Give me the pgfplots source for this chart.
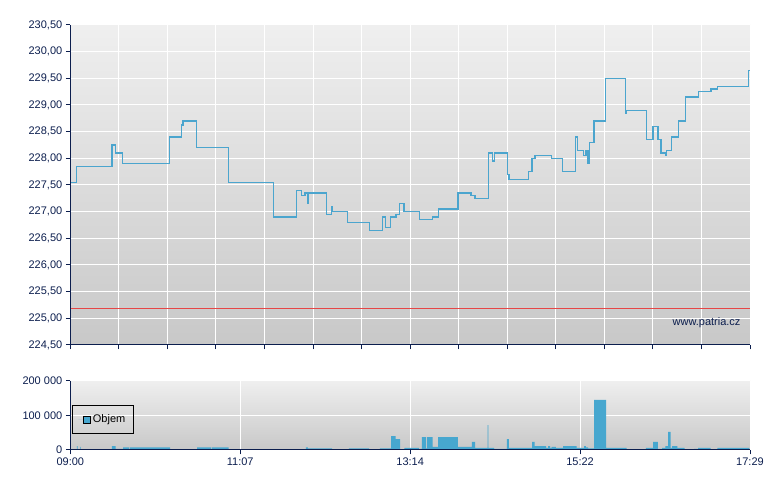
\documentclass[border=0pt]{standalone}
\usepackage{pgfplots}
\pgfplotsset{compat=1.18}
\usepackage{fontspec}
\setmainfont{Liberation Sans}
\definecolor{navycol}{RGB}{12,30,78}
\definecolor{linecol}{RGB}{75,165,206}
\definecolor{barcol}{RGB}{71,167,207}
\definecolor{refred}{RGB}{230,70,70}
\definecolor{bgtop}{RGB}{239,239,239}
\definecolor{bgbot}{RGB}{200,200,200}
\newcommand{\lab}{\fontsize{11}{13}\selectfont}
\pgfplotsset{
  chartbase/.style={
    scale only axis, width=679.7pt, xmin=0, xmax=509,
    axis line style={draw=none}, clip=false,
    grid=major, major grid style={white, line width=1pt},
    tick align=outside, xtick pos=left, ytick pos=left,
    major tick length=4.5pt, tick style={navycol, line width=1pt},
    tick label style={font=\lab, text=navycol},
    /pgf/number format/assume math mode=true,
    axis background/.style={top color=bgtop, bottom color=bgbot},
  },
}
\begin{document}
\begin{tikzpicture}
\useasboundingbox (0,0) rectangle (780pt,490pt);
% price
\begin{axis}[chartbase, at={(70.3pt,145pt)}, anchor=south west, height=320pt,
  ymin=224.5, ymax=230.5,
  ytick={224.5,225,225.5,226,226.5,227,227.5,228,228.5,229,229.5,230,230.5},
  xtick={0,36.357,72.714,109.071,145.429,181.786,218.143,254.5,290.857,327.214,363.571,399.929,436.286,472.643,509},
  xticklabels={},
  yticklabel style={/pgf/number format/.cd, fixed, fixed zerofill, precision=2, use comma, 1000 sep={}},
]
\addplot[refred, line width=1.3pt] coordinates {(0,225.185) (509,225.185)};
\addplot[const plot, linecol, line width=1.2pt] coordinates {
(0,227.55) (4.8,227.85) (31.2,228.25) (34.0,228.10) (39.2,227.90)
(74.1,228.40) (83.4,228.625) (84.4,228.70) (94.7,228.20) (118.6,227.55)
(152.0,226.90) (169.3,227.40) (173.3,227.30) (175.8,227.35) (177.8,227.15)
(178.4,227.35) (192.0,226.95) (195.5,227.10) (196.4,227.00) (207.4,226.80)
(223.9,226.65) (233.9,226.90) (235.9,226.70) (239.9,226.90) (243.9,226.95)
(246.4,227.15) (249.9,227.00) (261.4,226.85) (271.1,226.90) (275.6,227.05)
(290.3,227.35) (300.1,227.30) (303.1,227.25) (313.3,228.10) (316.3,227.95)
(317.5,228.10) (327.3,227.70) (328.5,227.60) (343.0,227.75) (345.8,228.00)
(348.0,228.05) (360.5,228.00) (368.5,227.75) (378.2,228.40) (379.7,228.15)
(384.2,228.05) (386.2,228.15) (387.7,227.90) (388.7,228.30) (392.2,228.70)
(400.8,229.50) (415.9,228.85) (416.6,228.90) (431.4,228.35) (436.4,228.60)
(440.1,228.35) (442.4,228.10) (445.6,228.05) (446.3,228.15) (450.1,228.40)
(455.3,228.70) (460.9,229.15) (470.6,229.25) (479.8,229.30) (484.5,229.35)
(507.8,229.65) (509,229.65)
};
\draw[navycol, line width=1pt] (rel axis cs:0,1) -- (rel axis cs:0,0) -- (rel axis cs:1,0);
\node[anchor=east, font=\lab, text=navycol] at ([xshift=-6pt, yshift=22pt]rel axis cs:1,0) {www.patria.cz};
\end{axis}
% volume
\begin{axis}[chartbase, at={(70.3pt,40pt)}, anchor=south west, height=69.3pt,
  ymin=0, ymax=200000, ytick={0,100000,200000}, scaled y ticks=false,
  yticklabel style={/pgf/number format/.cd, fixed, 1000 sep={\ }},
  xtick={0,127.25,254.5,381.75,509},
  xticklabels={09:00,11:07,13:14,15:22,17:29},
  legend style={at={(0.0025,0.649)}, anchor=north west, draw=black, line width=0.9pt,
    fill=none, font=\lab, text=black, inner xsep=6pt, inner ysep=7.5pt,
    nodes={inner sep=2pt}, column sep=0pt},
  legend image code/.code={\path (-5pt,0pt) -- (0pt,0pt);
    \draw[fill=barcol, draw=black, line width=0.9pt] (0pt,-3.5pt) rectangle (7pt,3.5pt);},
]
\addplot[const plot, fill=barcol, draw=none] coordinates {
(0,0) (5.0,11000) (5.5,0) (7.5,9000) (8.0,0) (31.2,11500) (34.0,2900)
(39.5,7700) (44.0,0) (44.7,7700) (74.7,0) (94.9,7700) (105.4,0) (106.1,7700)
(118.6,0) (176.5,7700) (178.0,4800) (196.0,0) (208.7,4800) (223.7,0)
(231.9,4800) (240.2,40400) (243.7,31700) (246.9,0) (250.1,5800) (261.1,2900)
(263.2,37500) (266.2,4800) (267.1,37500) (271.4,8700) (275.4,37500)
(290.3,8700) (300.8,23100) (303.1,5800) (312.6,72000) (313.0,5800)
(317.3,2900) (327.0,31700) (328.5,5800) (345.8,23100) (347.8,11500)
(356.3,5800) (357.8,11500) (359.3,5800) (360.5,8700) (363.7,5800)
(369.0,11500) (379.2,5800) (384.7,11500) (386.0,7700) (387.7,4800)
(392.2,144300) (401.2,5800) (416.7,0) (431.1,5800) (436.4,23100)
(440.1,2900) (443.1,5800) (445.6,11500) (447.6,52000) (449.6,5800)
(450.6,11500) (454.6,5800) (460.1,0) (467.1,2900) (470.1,5800) (479.6,0)
(484.5,5800) (508.5,0) (509,0)
} \closedcycle;
\addlegendentry{Objem}
\draw[navycol, line width=1pt] (rel axis cs:0,1) -- (rel axis cs:0,0) -- (rel axis cs:1,0);
\end{axis}
\end{tikzpicture}
\end{document}
